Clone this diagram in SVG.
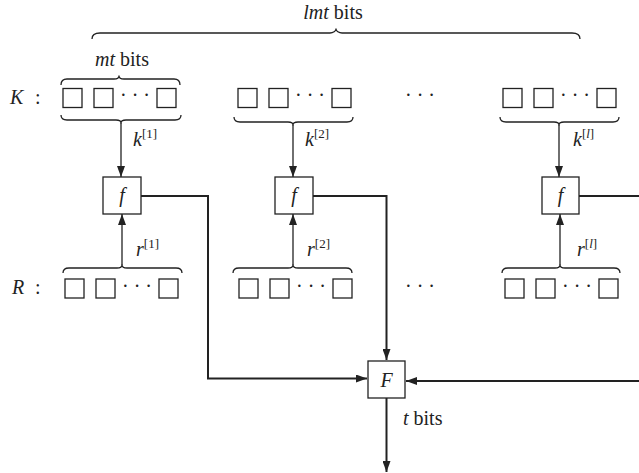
<svg xmlns="http://www.w3.org/2000/svg" width="639" height="473" viewBox="0 0 639 473">
  <defs>
    <style>
      text { font-family: "Liberation Serif", "Times New Roman", serif; font-size: 20px; fill: #222; }
      .m { font-style: italic; }
      .sup { font-size: 13px; }
      .cell { fill: #fff; stroke: #222; stroke-width: 1.3; }
      .box { fill: #fff; stroke: #222; stroke-width: 1.3; }
      .brace { fill: none; stroke: #222; stroke-width: 1.3; stroke-linejoin: round; }
      .thin { fill: none; stroke: #222; stroke-width: 1.3; }
      .wire { fill: none; stroke: #222; stroke-width: 2; }
    </style>
    <marker id="ah" viewBox="0 0 11 8" refX="11" refY="4" markerWidth="11" markerHeight="8" markerUnits="userSpaceOnUse" orient="auto">
      <path d="M0,0 L11,4 L0,8 Z" fill="#222"/>
    </marker>
    <!-- one row of cells: two squares, centre dots, last square -->
    <g id="cells">
      <rect class="cell" x="0" y="0" width="19" height="19"/>
      <rect class="cell" x="31" y="0" width="19" height="19"/>
      <text x="72" y="13.5" text-anchor="middle">· · ·</text>
      <rect class="cell" x="94" y="0" width="19" height="19"/>
    </g>
  </defs>

  <!-- top brace over all key blocks -->
  <g id="lmt">
    <path class="brace" d="M92,39 C92,35 95,33 100,33 L330,33 C333,33 336,31 336,29 C336,31 339,33 342,33 L572,33 C577,33 580,35 580,39"/>
    <text x="333" y="19" text-anchor="middle"><tspan class="m">lmt</tspan> bits</text>
  </g>

  <!-- row labels -->
  <g id="labels">
    <text x="10" y="104"><tspan class="m">K</tspan></text>
    <text x="35" y="104">:</text>
    <text x="12" y="294"><tspan class="m">R</tspan></text>
    <text x="35" y="294">:</text>
    <text x="420" y="101.5" text-anchor="middle">· · ·</text>
    <text x="420" y="293" text-anchor="middle">· · ·</text>
  </g>

  <!-- block 1 -->
  <g id="block1">
    <text x="122" y="66" text-anchor="middle"><tspan class="m">mt</tspan> bits</text>
    <path class="brace" d="M61,85 C61,81 63,79 67,79 L114,79 C117,79 119,78 119,76 C119,78 121,79 124,79 L174,79 C178,79 180,81 180,85"/>
    <use href="#cells" x="63" y="88.5"/>
    <path class="brace" d="M61,115 C61,119 63,120 67,120 L116,120 C119,120 121,121 121,123 C121,121 123,120 126,120 L175,120 C179,120 181,119 181,115"/>
    <use href="#cells" x="65" y="279"/>
    <path class="brace" d="M63,273 C63,269 65,268 69,268 L117,268 C120,268 122,267 122,265 C122,267 124,268 127,268 L176,268 C180,268 182,269 182,273"/>
    <text x="133" y="146" class="m">k<tspan class="sup" font-style="normal" dy="-8">[1]</tspan></text>
    <text x="136" y="256" class="m">r<tspan class="sup" font-style="normal" dy="-8">[1]</tspan></text>
  </g>
  <g id="f1">
    <rect class="box" x="103" y="177" width="38" height="37"/>
    <text x="122" y="201.5" text-anchor="middle" class="m">f</text>
  </g>

  <!-- block 2 -->
  <g id="block2">
    <use href="#cells" x="238" y="88.5"/>
    <path class="brace" d="M234,117 C234,121 236,122 240,122 L288,122 C291,122 293,123 293,125 C293,123 295,122 298,122 L347,122 C351,122 353,121 353,117"/>
    <use href="#cells" x="239" y="279"/>
    <path class="brace" d="M233,273 C233,269 235,268 239,268 L288,268 C291,268 293,267 293,265 C293,267 295,268 298,268 L346,268 C350,268 352,269 352,273"/>
    <text x="305" y="146" class="m">k<tspan class="sup" font-style="normal" dy="-8">[2]</tspan></text>
    <text x="307" y="256" class="m">r<tspan class="sup" font-style="normal" dy="-8">[2]</tspan></text>
  </g>
  <g id="f2">
    <rect class="box" x="275" y="177" width="38" height="37"/>
    <text x="294" y="201.5" text-anchor="middle" class="m">f</text>
  </g>

  <!-- block l -->
  <g id="blockl">
    <use href="#cells" x="503" y="88.5"/>
    <path class="brace" d="M500,117 C500,121 502,122 506,122 L554,122 C557,122 559,123 559,125 C559,123 561,122 564,122 L613,122 C617,122 619,121 619,117"/>
    <use href="#cells" x="505" y="279"/>
    <path class="brace" d="M502,273 C502,269 504,268 508,268 L555,268 C558,268 560,267 560,265 C560,267 562,268 565,268 L614,268 C618,268 620,269 620,273"/>
    <text x="573" y="146" class="m">k<tspan class="sup" dy="-8"><tspan font-style="normal">[</tspan>l<tspan font-style="normal">]</tspan></tspan></text>
    <text x="577" y="256" class="m">r<tspan class="sup" dy="-8"><tspan font-style="normal">[</tspan>l<tspan font-style="normal">]</tspan></tspan></text>
  </g>
  <g id="fl">
    <rect class="box" x="542" y="177" width="37" height="37"/>
    <text x="560.5" y="201.5" text-anchor="middle" class="m">f</text>
  </g>

  <!-- combiner -->
  <g id="F">
    <rect class="box" x="368" y="361" width="37" height="37"/>
    <text x="386.5" y="386.5" text-anchor="middle" class="m">F</text>
    <text x="403" y="425"><tspan class="m">t</tspan> bits</text>
  </g>

  <!-- connectors -->
  <g id="connectors">
    <line class="thin" x1="121" y1="123" x2="121" y2="177" marker-end="url(#ah)"/>
    <line class="thin" x1="122" y1="265" x2="122" y2="214" marker-end="url(#ah)"/>
    <line class="thin" x1="293" y1="125" x2="293" y2="177" marker-end="url(#ah)"/>
    <line class="thin" x1="293" y1="265" x2="293" y2="214" marker-end="url(#ah)"/>
    <line class="thin" x1="559" y1="125" x2="559" y2="177" marker-end="url(#ah)"/>
    <line class="thin" x1="560" y1="265" x2="560" y2="214" marker-end="url(#ah)"/>
    <path class="wire" d="M141,196 H208 V378.5 H367" marker-end="url(#ah)"/>
    <path class="wire" d="M313,196 H386.5 V360" marker-end="url(#ah)"/>
    <path class="wire" d="M579,196 H639"/>
    <path class="wire" d="M639,381 H406" marker-end="url(#ah)"/>
    <path class="wire" d="M386.5,398 V472" marker-end="url(#ah)"/>
  </g>
</svg>
